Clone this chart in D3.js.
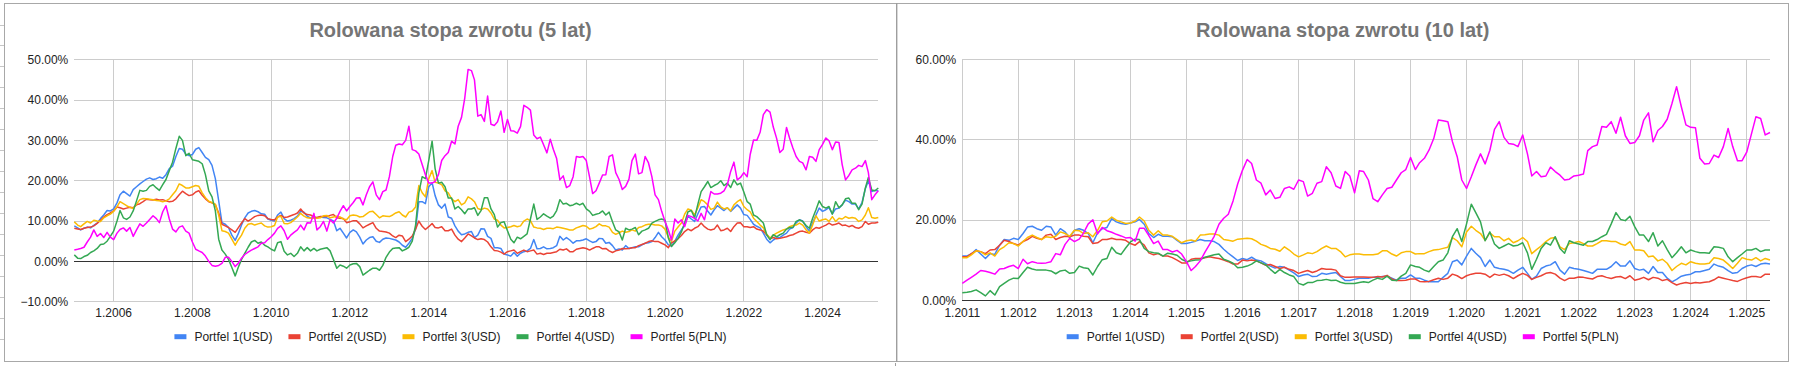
<!DOCTYPE html>
<html><head><meta charset="utf-8">
<script src="https://cdn.jsdelivr.net/npm/d3@7"></script>
<style>
html,body{margin:0;padding:0;background:#fff;}
svg{display:block;font-family:Arial,"Liberation Sans",sans-serif;}
</style></head><body>
<svg id="c" width="1801" height="366"></svg>
<script>
// ---------------- shared ----------------
const seriesNames = ["Portfel 1(USD)", "Portfel 2(USD)", "Portfel 3(USD)", "Portfel 4(USD)", "Portfel 5(PLN)"];
const seriesColors = ["#4285F4", "#EA4335", "#FBBC04", "#34A853", "#FF00FF"];

// ---------------- 5-year rolling return: monthly, 1.2005 .. 6.2025 ----------------
const title5 = "Rolowana stopa zwrotu (5 lat)";
const start5 = [2005, 0];
const xTickYears5 = [2006, 2008, 2010, 2012, 2014, 2016, 2018, 2020, 2022, 2024];
const yTicks5 = [-10, 0, 10, 20, 30, 40, 50];

const p1_5 = [8.8,8.3,7.8,8.2,8.5,8.3,8.9,9.5,10.6,11.5, 12.6,12.5,13.0,14.5,16.5,17.4,16.8,16.2,17.8,18.5, 19.2,19.8,20.4,20.7,20.3,20.5,20.9,20.6,21.5,23.0, 23.6,26.0,28.0,27.8,26.6,26.2,26.5,27.8,28.2,27.0, 25.8,25.2,23.8,20.5,15.0,9.6,9.2,8.4,6.5,5.2, 6.8,9.0,10.8,12.0,12.4,12.6,12.3,11.8,
11.7,10.5,10.2,10.0,11.5,12.2,10.6,10.0,10.2,10.6, 11.2,12.4,12.2,11.2,10.7,10.9,10.8,11.0,10.9,10.8, 10.4,10.0,7.6,8.2,7.0,5.8,7.2,7.8,7.3,6.0, 4.3,5.3,5.9,6.1,5.0,4.7,5.5,5.8,5.7,5.5, 5.3,4.8,4.0,3.5,4.5,5.7,8.0,14.8,14.8,14.3, 18.5,19.5,16.3,14.0,13.2,14.2,11.0,10.7,8.8,7.5, 6.6,6.8,7.2,
7.4,5.9,6.5,8.1,8.0,6.2,5.7,3.4,3.4,3.2, 1.8,1.6,1.3,2.2,1.3,2.0,2.4,2.6,3.2,5.4, 3.1,3.2,3.6,3.1,3.2,3.4,3.9,6.2,5.3,5.9, 5.3,4.5,5.1,5.1,5.3,5.6,5.1,4.7,4.9,5.7, 5.6,4.5,4.7,3.9,2.8,3.1,2.8,3.9,3.2,3.4, 3.6,3.6,4.1,4.5,4.6,4.9,5.9,7.2,6.1,5.3,4.1,
3.8,5.0,6.5,7.8,9.0,11.2,10.5,9.9,11.8,13.5, 13.6,12.4,11.5,12.8,13.8,13.2,12.6,13.3,12.4,13.2, 14.0,13.2,11.6,11.4,10.4,9.2,8.7,8.3,7.0,5.5, 4.6,5.3,5.8,5.9,6.5,7.0,8.0,8.4,9.5,10.3, 10.0,8.6,7.5,9.5,11.5,13.2,12.4,12.8,13.3,11.8, 13.0,13.2,14.0,15.2,14.8,14.2,14.2,13.0,14.6,18.0, 20.0,17.3,17.6,17.5];

const p2_5 = [8.2,8.0,7.9,8.2,8.4,8.5,8.8,9.4,10.2,11.0, 11.6,12.0,12.5,13.5,13.3,13.0,13.2,13.4,13.3,14.0, 14.3,14.8,15.4,15.3,15.2,15.4,15.2,15.3,15.0,14.8, 14.9,15.5,16.5,17.4,16.8,16.3,16.5,17.2,17.5,16.4, 15.5,14.8,14.5,14.0,12.0,9.2,8.8,8.4,7.8,7.2, 8.3,9.5,10.6,10.0,10.5,11.1,11.4,11.5,
11.3,10.6,10.4,10.3,11.0,11.4,10.9,11.0,11.3,11.6, 12.0,13.0,12.0,11.6,11.5,11.0,10.9,11.1,11.1,11.1, 11.4,11.6,10.8,10.7,10.6,9.6,9.8,10.1,10.1,9.3, 8.3,8.8,9.2,9.6,8.2,7.5,7.4,7.3,7.0,6.3, 5.9,6.5,6.3,4.9,5.5,6.3,8.0,10.0,8.7,7.9, 8.6,9.4,8.4,8.3,8.6,7.6,7.6,8.0,6.5,5.5, 4.9,5.8,6.8,
6.3,5.8,5.4,5.6,5.4,4.8,3.6,2.7,2.6,2.3, 1.8,2.4,2.6,2.8,2.0,2.4,2.8,2.4,2.6,2.8, 1.8,2.0,1.7,2.0,2.0,2.2,2.4,3.0,2.8,3.1, 2.4,2.4,3.0,3.2,3.4,3.2,2.8,3.2,3.6,3.6, 3.1,3.2,2.6,2.2,2.6,2.8,3.2,3.1,3.2,3.4, 3.4,3.9,4.2,4.5,4.9,5.1,4.9,4.9,4.5,4.1,3.4,
4.6,5.1,5.6,6.4,7.4,8.0,7.6,8.2,8.6,9.5, 8.6,8.0,7.8,8.0,9.0,7.6,7.8,8.2,7.4,8.6, 9.5,9.6,8.6,8.6,8.4,8.6,8.0,7.8,7.5,6.6, 5.6,5.9,5.6,5.7,5.9,6.1,6.4,6.6,7.0,7.4, 7.5,7.2,7.0,7.8,8.4,8.2,8.6,9.0,9.5,9.0, 9.2,9.5,8.9,9.0,8.6,8.9,8.4,8.2,8.6,9.9, 9.2,9.5,9.5,9.7];

const p3_5 = [9.8,9.0,8.6,9.3,9.9,9.5,10.2,10.0,9.9,10.8, 11.3,11.7,12.4,13.5,14.8,14.3,13.8,13.4,13.1,14.2, 15.3,15.6,15.5,15.4,15.3,15.1,15.0,14.8,15.0,15.5, 16.5,17.5,19.2,18.8,18.2,18.2,18.5,18.8,18.6,17.0, 15.8,14.9,14.6,14.2,11.5,7.6,7.4,7.0,5.5,4.0, 5.3,6.5,8.2,9.2,9.4,9.0,9.3,9.5,
8.8,8.5,8.6,8.9,11.0,11.2,9.4,9.3,9.6,10.3, 11.0,11.9,11.2,10.8,10.7,10.7,10.7,10.8,11.3,11.4, 10.8,11.0,11.2,11.0,10.5,10.3,11.3,11.5,11.4,11.0, 11.1,11.7,12.3,12.4,11.6,10.8,11.3,11.2,11.1,11.5, 12.0,12.3,11.5,11.0,12.2,12.5,13.5,18.8,17.0,16.0, 20.5,22.5,19.6,19.4,19.0,17.5,17.0,15.5,14.8,15.3, 14.0,14.5,16.0,
15.5,14.8,13.1,12.8,13.2,13.0,12.0,10.5,10.2,9.0, 8.3,8.4,8.6,8.9,8.6,8.8,10.0,10.5,10.1,8.5, 8.3,8.2,7.9,8.2,8.2,8.1,8.5,8.4,8.2,8.0, 7.8,7.8,8.3,8.6,8.9,8.7,8.0,8.2,8.6,9.3, 8.8,8.8,8.5,7.2,6.7,7.1,7.5,7.2,7.4,7.8, 7.5,8.4,8.6,9.0,9.2,9.2,9.0,9.0,8.8,8.0,6.0,
5.0,7.5,8.5,9.5,11.7,13.0,12.7,11.5,13.3,15.3, 14.8,14.0,12.9,13.2,14.7,13.5,13.0,13.3,12.5,14.0, 14.8,15.3,13.6,12.8,12.3,10.7,9.9,9.0,8.3,6.7, 5.8,6.5,7.0,7.4,7.8,8.0,8.6,8.9,9.0,9.5, 9.0,7.8,7.0,9.0,11.3,10.0,10.3,10.5,9.9,11.1, 9.9,10.7,10.5,11.1,10.7,10.9,10.7,9.9,10.3,11.5, 13.3,10.9,10.7,10.9];

const p4_5 = [1.6,0.8,0.7,1.2,1.5,2.2,2.6,3.2,4.2,4.3, 5.0,6.2,7.5,10.0,12.6,10.8,10.4,11.0,12.5,15.0, 17.6,17.4,17.6,18.6,19.0,18.2,17.6,19.0,20.3,22.5, 24.6,28.0,31.0,30.0,26.2,26.8,25.2,25.0,24.8,24.2, 21.5,17.5,16.0,12.5,5.5,2.8,1.8,0.5,-1.5,-3.6, -1.5,0.5,2.0,3.5,4.8,5.2,4.5,4.8,
4.0,3.6,3.0,2.6,4.6,4.9,2.5,1.6,2.0,1.2, 2.0,3.6,2.6,3.4,2.6,3.2,2.6,3.0,3.2,3.4, 2.6,0.5,-1.7,-0.9,-1.2,-1.7,-0.9,-0.6,-0.5,-1.3, -3.4,-2.8,-2.2,-1.7,-1.7,-2.2,-1.0,1.0,2.3,3.2, 3.3,3.4,2.6,3.0,3.5,5.0,9.0,17.0,21.0,20.5, 25.0,29.8,23.0,19.4,19.6,18.5,15.7,15.7,13.0,13.6, 12.8,11.8,13.0,
13.0,13.3,11.4,12.6,15.8,15.8,13.0,11.6,8.5,9.6, 9.8,7.6,5.5,4.6,6.0,5.6,6.2,6.8,10.5,14.2, 10.4,11.0,11.8,11.2,10.7,11.2,12.6,15.3,14.2,14.4, 13.8,14.0,14.4,14.0,14.4,13.0,12.4,11.4,11.7,11.9, 12.5,11.5,12.2,9.8,7.8,7.3,5.3,8.2,7.8,8.0, 8.4,6.6,7.5,7.8,8.2,9.5,9.9,10.3,10.5,10.2,5.8,
3.7,4.6,5.7,7.3,9.5,12.3,12.6,10.8,14.2,17.3, 18.5,19.8,18.3,18.8,19.2,20.0,18.8,19.4,18.3,20.2, 19.0,19.4,17.2,14.8,14.2,11.5,11.1,10.3,9.5,6.6, 5.4,6.6,6.1,6.6,7.0,8.0,8.4,8.4,9.9,10.3, 9.9,8.9,8.2,10.7,12.8,15.0,13.6,13.2,13.6,11.7, 14.8,13.3,14.0,15.5,15.7,14.4,14.4,12.8,14.2,18.2, 20.8,17.7,17.5,18.2];

const p5_5 = [2.8,3.0,3.2,3.5,4.8,6.0,7.8,6.2,6.9,5.9, 7.2,6.0,5.4,7.0,7.9,8.3,7.5,8.4,6.2,7.8, 9.3,8.7,9.5,10.4,11.3,10.6,9.6,12.3,13.8,10.5, 8.0,7.3,8.5,8.8,7.5,7.0,4.8,3.0,2.6,2.2, 1.3,0.0,-1.0,-1.2,-1.0,-0.5,1.0,1.0,0.0,-1.3, -0.5,0.8,1.7,2.3,2.8,3.2,3.6,4.5,
4.6,5.4,6.1,7.0,8.2,8.8,7.6,5.5,6.5,7.2, 7.8,9.0,7.8,9.6,9.5,11.9,7.8,8.6,9.9,7.5, 10.3,9.5,10.7,12.4,13.8,12.5,13.6,14.6,15.7,15.8, 14.0,16.5,18.5,19.7,16.5,15.3,17.3,17.7,21.0,26.0, 28.8,29.1,28.9,30.0,33.5,27.7,27.4,26.6,24.0,21.5, 19.4,19.4,19.8,21.5,25.0,26.2,27.0,29.8,29.1,33.5, 35.7,40.5,47.6,
47.3,45.0,36.0,36.4,34.7,41.0,34.0,33.7,34.6,37.3, 32.0,35.2,32.4,32.3,31.8,33.4,38.7,38.2,37.5,31.3, 30.4,30.8,28.9,26.9,30.3,27.8,25.5,20.2,21.2,18.3, 18.8,21.0,26.0,25.8,26.0,25.0,20.8,16.8,17.5,19.4, 21.4,21.5,26.0,26.4,22.0,20.3,17.8,18.6,20.4,25.0, 26.6,21.7,22.0,26.0,24.4,21.0,16.5,15.3,12.4,9.9,7.8,
5.3,10.5,9.5,10.3,8.6,11.4,11.1,10.7,10.0,11.9, 10.3,14.0,17.3,16.7,16.7,16.9,17.5,19.0,22.3,24.6, 20.2,20.8,22.0,21.0,26.5,30.1,30.0,32.0,36.4,37.6, 37.0,33.3,30.5,27.0,27.8,33.2,30.6,28.1,26.0,24.8, 24.4,22.7,26.0,25.8,24.8,27.7,29.0,30.6,29.9,27.7, 29.6,29.5,24.0,20.2,21.3,22.7,23.1,23.8,23.5,25.0, 22.0,15.3,16.5,17.5];

// ---------------- 10-year rolling return: monthly, 1.2011 .. 6.2025 ----------------
const title10 = "Rolowana stopa zwrotu (10 lat)";
const start10 = [2011, 0];
const xTickYears10 = [2011, 2012, 2013, 2014, 2015, 2016, 2017, 2018, 2019, 2020, 2021, 2022, 2023, 2024, 2025];
const yTicks10 = [0, 20, 40, 60];

const p1_10 = [11.1,11.1,11.6,12.7,11.6,10.5,11.7,11.5,13.8,15.2, 15.0,15.5,15.2,16.7,18.3,18.5,17.9,17.5,18.5,18.3, 16.3,17.9,17.1,15.7,17.5,17.9,17.5,16.7,14.4,16.9, 17.9,18.2,20.4,19.6,19.2,19.0,19.3,19.6,20.2,19.0, 16.7,15.7,16.5,16.0,16.0,15.9,15.0,14.2,
14.2,14.5,14.8,15.2,14.9,14.9,14.7,14.0,12.8,11.8, 10.9,10.0,10.5,10.2,10.8,10.1,9.9,9.2,8.6,8.1, 8.5,8.3,7.6,6.9,6.0,
6.4,6.6,6.0,6.1,6.8,6.6,6.8,7.0,6.0,5.0, 5.0,5.3,5.6,5.6,5.6,5.8,5.8,6.0,6.1,5.6, 5.1,5.6,5.6,6.4,5.6,5.6,5.1,4.7,4.7,4.7, 5.8,6.8,9.7,10.1,8.9,11.1,13.0,11.8,10.7,8.5, 10.1,8.3,8.0,7.8,7.5,6.8,7.6,8.3,6.8,5.3, 6.1,8.0,8.6,8.9,9.7,7.6,6.6,8.3,8.0,7.8, 7.5,7.2,6.8,7.8,7.8,7.8,8.5,9.7,8.6,8.6, 9.9,8.0,7.6,7.8,6.8,8.5,7.0,7.0,5.6,4.7, 5.3,6.1,6.4,6.6,7.2,7.2,7.5,7.8,9.1,8.6, 8.3,7.5,6.8,7.0,8.0,8.6,8.9,8.5,9.1,9.3,9.1];

const p2_10 = [10.9,10.9,11.7,12.4,12.2,11.7,12.6,12.7,13.8,15.0, 14.7,14.2,13.8,14.7,15.2,16.0,15.5,15.2,16.3,16.5, 15.2,15.7,16.0,15.9,16.3,16.3,16.0,15.9,14.2,14.4, 15.2,15.2,15.5,15.2,15.2,15.0,14.2,13.8,14.7,13.8, 11.9,11.4,11.7,11.1,11.1,10.7,10.1,9.4,
9.4,10.3,10.5,10.5,10.7,10.9,10.7,10.5,10.1,9.7, 9.1,9.1,10.1,9.9,10.1,9.9,9.4,8.8,9.0,8.5, 8.0,8.3,7.8,7.5,6.8,
7.2,7.5,7.0,7.4,8.0,7.8,7.8,7.6,6.2,5.8, 5.8,5.9,5.9,5.9,5.8,5.8,6.0,5.9,6.3,5.4, 5.0,5.0,5.1,5.4,5.4,4.8,4.7,4.8,5.2,5.6, 5.3,5.6,6.6,6.2,5.5,6.2,6.6,6.8,6.8,6.6, 5.8,6.6,6.3,6.6,6.2,5.5,6.2,6.8,6.3,5.3, 5.8,6.2,6.8,7.0,6.6,5.6,5.0,5.6,5.6,5.9, 5.8,5.6,5.4,6.0,6.2,5.8,5.5,5.9,6.0,5.5, 6.2,5.1,5.4,5.8,5.2,5.8,5.6,5.0,5.3,4.5, 3.9,4.3,4.5,4.3,4.5,4.4,4.6,4.7,5.2,5.9, 5.6,5.3,5.0,4.8,5.3,5.7,6.0,6.0,5.8,6.6,6.6];

const p3_10 = [10.7,10.7,11.4,12.4,12.2,11.4,11.9,11.1,12.7,13.4, 14.4,14.2,13.6,14.7,15.7,16.3,15.7,15.2,15.9,15.7, 16.0,17.1,16.7,16.0,17.5,17.4,16.7,16.9,15.9,17.5, 19.6,19.8,20.8,20.0,19.6,19.2,19.3,19.8,20.8,19.8, 17.5,16.3,17.4,16.3,16.3,16.0,15.2,14.4,
14.9,15.1,14.8,16.3,16.4,16.6,16.6,16.3,15.2,15.0, 14.8,15.3,15.4,15.5,15.4,14.8,14.0,13.6,13.0,12.8, 12.3,13.4,12.6,11.6,10.9,
11.4,11.9,11.7,12.2,13.0,13.6,13.0,13.0,12.2,10.9, 11.4,11.6,11.6,11.4,11.4,11.4,11.6,12.4,12.4,11.6, 11.1,11.9,12.2,12.2,11.6,11.7,11.7,12.2,12.6,12.7, 13.0,13.3,15.7,14.9,13.4,17.1,18.5,17.5,16.7,15.0, 16.9,15.9,15.9,14.9,15.5,14.4,14.9,15.7,14.7,11.7, 12.7,13.6,14.7,15.5,15.7,13.4,12.7,14.2,14.4,14.7, 14.2,13.6,13.6,14.2,14.9,14.9,14.7,14.7,14.1,13.8, 14.7,12.6,12.6,12.4,10.9,11.1,9.9,10.3,9.3,7.5, 8.5,9.3,8.9,9.7,9.3,9.1,9.1,9.3,10.7,10.5, 10.1,9.1,8.0,9.3,10.7,10.3,10.1,10.7,9.9,10.5,10.1];

const p4_10 = [2.0,2.1,2.3,2.7,2.0,1.2,2.5,1.4,3.5,4.3, 5.1,5.6,5.5,7.0,8.3,7.9,7.6,7.6,7.6,7.4, 6.7,7.4,7.6,6.8,7.0,8.6,8.2,8.0,6.4,8.5, 10.2,10.5,13.3,11.9,11.5,13.1,14.6,15.3,15.2,13.0, 12.2,11.9,11.8,11.1,11.8,11.6,11.3,10.3,
9.7,9.9,10.1,10.2,10.8,11.1,11.4,11.6,10.3,9.9, 9.3,8.2,8.3,8.6,9.1,9.9,9.4,8.9,7.8,6.8, 7.8,7.0,6.4,6.0,4.3,
3.9,4.5,4.5,5.0,5.1,5.3,5.0,5.1,4.6,4.3, 4.3,4.3,4.5,4.7,4.5,5.1,5.6,5.3,6.1,5.1, 5.0,6.1,6.8,8.9,8.5,8.3,7.6,7.2,8.5,9.7, 10.1,11.9,15.9,17.9,14.7,19.1,24.0,21.9,19.6,14.9, 17.1,14.1,13.0,13.6,14.2,13.6,13.8,14.4,11.9,7.8, 10.3,13.0,14.4,13.8,15.9,13.0,11.8,14.9,14.4,14.1, 13.8,14.7,14.7,15.2,15.9,16.5,19.1,21.9,20.2,19.9, 21.0,18.4,16.3,16.3,14.7,16.9,13.6,14.9,12.7,10.7, 11.9,13.4,11.9,12.6,12.2,11.9,11.9,11.8,13.4,13.3, 13.0,10.9,9.7,10.7,11.6,12.6,12.6,13.0,12.2,12.6,12.6];

const p5_10 = [4.3,5.1,5.8,6.6,7.5,7.3,7.0,6.6,7.9,8.0, 8.5,8.8,8.0,10.3,9.2,9.7,9.4,9.3,9.4,9.7, 11.7,11.4,14.0,15.5,14.7,15.3,16.8,19.1,20.1,16.6, 18.2,17.4,17.0,16.5,16.1,15.6,15.7,14.8,18.0,18.0, 16.2,14.2,14.8,12.7,12.7,12.1,12.5,11.6,
9.7,7.5,8.5,9.9,12.0,14.0,16.0,19.0,20.5,21.5, 24.8,29.0,32.4,35.1,34.1,30.0,29.2,26.3,27.5,25.4, 25.7,27.9,28.3,27.7,30.0,
29.6,26.0,26.7,29.2,29.6,33.3,31.8,28.5,27.9,32.1, 31.0,26.8,32.3,32.1,30.0,25.4,24.6,26.3,27.9,28.2, 30.0,31.8,32.6,35.6,32.6,34.3,35.4,37.4,40.3,44.9, 44.7,44.5,39.5,35.8,30.0,27.9,30.8,33.7,36.5,34.0, 37.4,42.6,44.5,40.6,39.1,38.9,38.3,41.2,36.5,31.0, 32.1,30.8,31.0,33.2,32.1,31.2,30.0,30.2,31.0,31.2, 31.5,37.3,38.3,38.7,43.3,43.1,44.5,41.6,45.6,41.0, 39.1,39.3,41.0,44.9,46.7,39.5,42.3,43.3,45.1,49.0, 53.2,48.2,43.7,43.1,43.0,35.4,34.0,34.1,36.2,35.6, 38.3,42.8,38.3,34.8,34.8,37.0,41.6,45.7,45.3,41.2,41.8];

// ---------------- drawing ----------------
const svg = d3.select("#c");
const FONT = 'Arial, "Liberation Sans", sans-serif';

// spreadsheet row marks peeking at the far left
svg.append("g").selectAll("line").data(d3.range(16)).join("line")
  .attr("x1", 0).attr("x2", 4)
  .attr("y1", k => 25 + 20.97 * k).attr("y2", k => 25 + 20.97 * k)
  .attr("stroke", "#c6c6c6").attr("stroke-width", 1).attr("shape-rendering", "crispEdges");

function monthsFrom(start, n) {
  const s = new Date(start[0], start[1], 1);
  return d3.range(n).map(i => d3.timeMonth.offset(s, i));
}

function drawChart(cfg) {
  const g = svg.append("g");
  const dates = monthsFrom(cfg.start, cfg.series[0].length);
  const x = d3.scaleTime().domain([dates[0], dates[dates.length - 1]]).range([cfg.left, cfg.right]);
  const y = d3.scaleLinear().domain(cfg.yDomain).range([cfg.bottom, cfg.top]);

  // title
  g.append("text").attr("x", (cfg.panelL + cfg.panelR) / 2).attr("y", 36.5)
    .attr("text-anchor", "middle").attr("font-family", FONT).attr("font-weight", "bold")
    .attr("font-size", 20).attr("fill", "#757575").text(cfg.title);

  // horizontal gridlines
  g.append("g").selectAll("line").data(cfg.yTicks.filter(v => v !== 0)).join("line")
    .attr("x1", cfg.left).attr("x2", cfg.right)
    .attr("y1", d => y(d)).attr("y2", d => y(d))
    .attr("stroke", "#cccccc").attr("stroke-width", 1).attr("shape-rendering", "crispEdges");

  // vertical gridlines
  const tickDates = cfg.xTickYears.map(yr => new Date(yr, 0, 1));
  g.append("g").selectAll("line").data(tickDates).join("line")
    .attr("x1", d => x(d)).attr("x2", d => x(d))
    .attr("y1", cfg.top).attr("y2", cfg.bottom)
    .attr("stroke", "#cccccc").attr("stroke-width", 1).attr("shape-rendering", "crispEdges");

  // baseline at 0
  g.append("line").attr("x1", cfg.left).attr("x2", cfg.right)
    .attr("y1", y(0)).attr("y2", y(0))
    .attr("stroke", "#333333").attr("stroke-width", 1.2).attr("shape-rendering", "crispEdges");

  // y labels
  g.append("g").selectAll("text").data(cfg.yTicks).join("text")
    .attr("x", cfg.left - 6).attr("y", d => y(d)).attr("dy", "0.35em")
    .attr("text-anchor", "end").attr("font-family", FONT).attr("font-size", 12).attr("fill", "#222")
    .text(d => d3.format(".2f")(d) + "%");

  // x labels
  g.append("g").selectAll("text").data(tickDates).join("text")
    .attr("x", d => x(d)).attr("y", 316.6)
    .attr("text-anchor", "middle").attr("font-family", FONT).attr("font-size", 12).attr("fill", "#222")
    .text(d => "1." + d.getFullYear());

  // series
  const line = d3.line().x((d, i) => x(dates[i])).y(d => y(d));
  cfg.series.forEach((s, i) => {
    g.append("path").datum(s).attr("d", line)
      .attr("fill", "none").attr("stroke", seriesColors[i]).attr("stroke-width", 1.5)
      .attr("stroke-linejoin", "round");
  });

  // legend
  const lg = g.append("g");
  const items = seriesNames.map((name, i) => {
    const it = lg.append("g");
    it.append("rect").attr("width", 12).attr("height", 5).attr("y", 334.2).attr("fill", seriesColors[i]);
    const t = it.append("text").attr("x", 20).attr("y", 340.5)
      .attr("font-family", FONT).attr("font-size", 12).attr("fill", "#222").text(name);
    return { it, w: 20 + t.node().getComputedTextLength() };
  });
  const total = d3.sum(items, d => d.w) + 16 * (items.length - 1);
  let cx = (cfg.panelL + cfg.panelR) / 2 - total / 2;
  items.forEach(d => { d.it.attr("transform", `translate(${cx},0)`); cx += d.w + 16; });
}

drawChart({
  title: title5, start: start5, series: [p1_5, p2_5, p3_5, p4_5, p5_5],
  xTickYears: xTickYears5, yTicks: yTicks5, yDomain: [-10, 50],
  left: 74.3, right: 878.3, top: 59.7, bottom: 301.7, panelL: 4.5, panelR: 896.5
});
drawChart({
  title: title10, start: start10, series: [p1_10, p2_10, p3_10, p4_10, p5_10],
  xTickYears: xTickYears10, yTicks: yTicks10, yDomain: [0, 60],
  left: 962.3, right: 1770, top: 59.3, bottom: 300.7, panelL: 897, panelR: 1788.5
});

// panel borders
const b = svg.append("g").attr("shape-rendering", "crispEdges");
b.append("line").attr("x1", 4).attr("x2", 1789).attr("y1", 3.5).attr("y2", 3.5).attr("stroke", "#a8a8a8");
b.append("line").attr("x1", 4).attr("x2", 1789).attr("y1", 361.5).attr("y2", 361.5).attr("stroke", "#a8a8a8");
b.append("line").attr("x1", 4.5).attr("x2", 4.5).attr("y1", 3).attr("y2", 362).attr("stroke", "#a8a8a8");
b.append("line").attr("x1", 1788.5).attr("x2", 1788.5).attr("y1", 3).attr("y2", 362).attr("stroke", "#a8a8a8");
b.append("line").attr("x1", 896.7).attr("x2", 896.7).attr("y1", 3).attr("y2", 362).attr("stroke", "#9e9e9e").attr("stroke-width", 1.4).attr("shape-rendering", "auto");
b.append("line").attr("x1", 895.5).attr("x2", 895.5).attr("y1", 362.5).attr("y2", 366).attr("stroke", "#9e9e9e");
</script>
</body></html>
